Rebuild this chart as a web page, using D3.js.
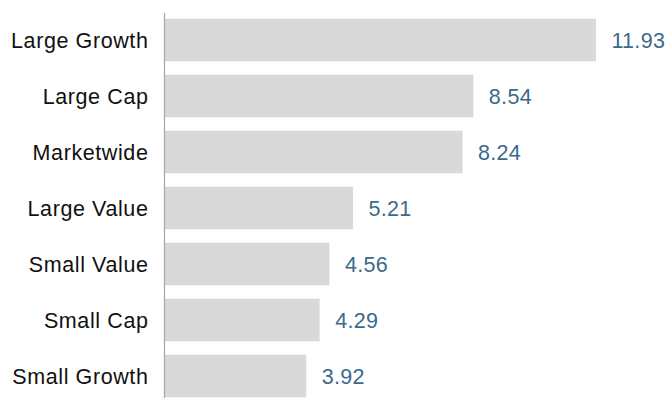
<!DOCTYPE html>
<html>
<head>
<meta charset="utf-8">
<script src="https://cdn.jsdelivr.net/npm/d3@7"></script>
<style>
  body { margin: 0; background: #fff; }
  text { font-family: "Liberation Sans", Arial, sans-serif; }
</style>
</head>
<body>
<svg width="670" height="398"></svg>
<script>
var categories = ["Large Growth", "Large Cap", "Marketwide", "Large Value", "Small Value", "Small Cap", "Small Growth"];
var values = [11.93, 8.54, 8.24, 5.21, 4.56, 4.29, 3.92];
var valueLabels = ["11.93", "8.54", "8.24", "5.21", "4.56", "4.29", "3.92"];

var svg = d3.select("svg");

var data = categories.map(function(c, i) {
    return {label: c, value: values[i], text: valueLabels[i]};
});

var x = d3.scaleLinear().domain([0, 12]).range([164.5, 598.5]),
    y = d3.scaleBand().domain(categories).range([12, 404]).paddingInner(0.24).paddingOuter(0.12);

svg.selectAll(".bar")
    .data(data)
    .enter().append("rect")
    .attr("class", "bar")
    .attr("x", x(0))
    .attr("y", function(d) { return y(d.label); })
    .attr("width", function(d) { return x(d.value) - x(0); })
    .attr("height", y.bandwidth())
    .attr("fill", "#d9d9d9");

svg.append("line")
    .attr("x1", x(0))
    .attr("x2", x(0))
    .attr("y1", 13)
    .attr("y2", 398)
    .attr("stroke", "#a6a6a6")
    .attr("stroke-width", 1.2);

svg.selectAll(".cat")
    .data(data)
    .enter().append("text")
    .attr("class", "cat")
    .attr("x", x(0) - 16)
    .attr("y", function(d) { return y(d.label) + y.bandwidth() / 2; })
    .attr("dy", "0.35em")
    .attr("text-anchor", "end")
    .attr("font-size", "21.5px")
    .attr("letter-spacing", "0.6px")
    .attr("fill", "#111")
    .text(function(d) { return d.label; });

svg.selectAll(".val")
    .data(data)
    .enter().append("text")
    .attr("class", "val")
    .attr("x", function(d) { return x(d.value) + 15.5; })
    .attr("y", function(d) { return y(d.label) + y.bandwidth() / 2; })
    .attr("dy", "0.35em")
    .attr("font-size", "21.5px")
    .attr("letter-spacing", "0.3px")
    .attr("fill", "#3b6a8a")
    .text(function(d) { return d.text; });
</script>
</body>
</html>
